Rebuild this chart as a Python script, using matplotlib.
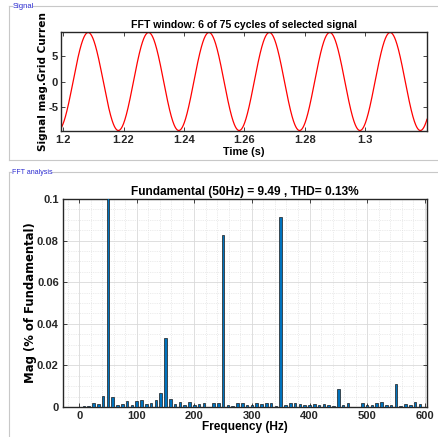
import numpy as np
import matplotlib
matplotlib.use("Agg")
import matplotlib.pyplot as plt
from matplotlib.lines import Line2D
from matplotlib.ticker import MultipleLocator

plt.rcParams['font.family'] = ['Liberation Sans', 'DejaVu Sans']

# ---- data ----
fundamental_amp = 9.49
fundamental_freq = 50.0
peak_time = 1.2083
time_window = (1.1993, 1.3205)
signal_ticks = [-5, 0, 5]
signal_ticklabels = ['-5', '0', '5']

freq_step = 50.0 / 6.0  # 6 cycles window resolution
harmonic_mag = [0.0001, 0.0006, 0.0007, 0.0017, 0.0013, 0.0055, 1.0, 0.0047, 0.0008, 0.0013,
                0.0027, 0.0012, 0.0027, 0.0032, 0.0015, 0.0017, 0.0035, 0.0065, 0.0333, 0.0038,
                0.0013, 0.0022, 0.0008, 0.0022, 0.0010, 0.0015, 0.0017, 0.0001, 0.0020, 0.0018,
                0.0827, 0.0012, 0.0006, 0.0017, 0.0020, 0.0012, 0.0008, 0.0017, 0.0015, 0.0017,
                0.0017, 0.0005, 0.0915, 0.0008, 0.0017, 0.0017, 0.0015, 0.0008, 0.0010, 0.0013,
                0.0012, 0.0013, 0.0012, 0.0003, 0.0085, 0.0012, 0.0017, 0.0002, 0.0002, 0.0017,
                0.0008, 0.0008, 0.0017, 0.0022, 0.0008, 0.0008, 0.0110, 0.0003, 0.0013, 0.0010,
                0.0022, 0.0013]
freqs = np.arange(len(harmonic_mag)) * freq_step

W, H = 438, 437
fig = plt.figure(figsize=(W / 100, H / 100), dpi=100)
fig.patch.set_facecolor('white')

def fx(x):
    return x / W

def fy(y):
    return 1 - y / H

# ---- panel frames ----
pcol = '#c8c8c8'
def hline(x0, x1, y):
    fig.add_artist(Line2D([fx(x0), fx(x1)], [fy(y), fy(y)], color=pcol, lw=0.8))
def vline(x, y0, y1):
    fig.add_artist(Line2D([fx(x), fx(x)], [fy(y0), fy(y1)], color=pcol, lw=0.8))

hline(9, 12, 6)
hline(33, 438, 6)
vline(9, 6, 160)
hline(9, 438, 160)
fig.text(fx(12.5), fy(6), 'Signal', color='#2a2ad0', fontsize=5.5, va='center', ha='left')

hline(9, 11, 172)
hline(52, 438, 172)
vline(9, 172, 437)
fig.text(fx(12), fy(172), 'FFT analysis', color='#2a2ad0', fontsize=5.0, va='center', ha='left')

axcol = '#262626'
label_family = ['DejaVu Sans']

def style(ax, ypad=3):
    for s in ax.spines.values():
        s.set_color(axcol)
        s.set_linewidth(1.0)
    ax.tick_params(direction='in', top=True, right=True, length=3, width=0.6,
                   color=axcol, labelsize=8, pad=3)
    ax.tick_params(axis='y', pad=ypad)
    for lab in ax.get_xticklabels() + ax.get_yticklabels():
        lab.set_fontweight('bold')
        lab.set_color('#262626')

# ---- top axes: signal ----
ax1 = fig.add_axes([fx(61), fy(131), (427 - 61) / W, (131 - 32) / H])
t = np.linspace(time_window[0], time_window[1], 2000)
sig = fundamental_amp * np.cos(2 * np.pi * fundamental_freq * (t - peak_time))
ax1.plot(t, sig, color='#ff0000', lw=0.9)
ax1.set_xlim(*time_window)
ax1.set_ylim(-fundamental_amp * 1.01, fundamental_amp * 1.01)
ax1.set_xticks([1.2, 1.22, 1.24, 1.26, 1.28, 1.3])
ax1.set_xticklabels(['1.2', '1.22', '1.24', '1.26', '1.28', '1.3'])
ax1.set_yticks(signal_ticks)
ax1.set_yticklabels(signal_ticklabels)
style(ax1, ypad=2)
ax1.set_title('FFT window: 6 of 75 cycles of selected signal', fontsize=7.6,
              fontweight='bold', pad=3)
ax1.set_xlabel('Time (s)', fontsize=7.8, fontweight='bold', labelpad=1)
ax1.set_ylabel('Signal mag.Grid Curren', fontsize=7.6, fontweight='bold', labelpad=0.5,
               family=label_family)

# ---- bottom axes: FFT ----
ax2 = fig.add_axes([fx(63), fy(407), (427 - 63) / W, (407 - 199) / H])
ax2.bar(freqs, harmonic_mag, width=freq_step * 0.55, color='#0072bd',
        edgecolor='#1a1a1a', linewidth=0.5, zorder=3)
ax2.set_xlim(-28, 604)
ax2.set_ylim(0, 0.1)
ax2.set_xticks([0, 100, 200, 300, 400, 500, 600])
ax2.set_yticks([0, 0.02, 0.04, 0.06, 0.08, 0.1])
ax2.set_yticklabels(['0', '0.02', '0.04', '0.06', '0.08', '0.1'])
ax2.xaxis.set_minor_locator(MultipleLocator(20))
ax2.yaxis.set_minor_locator(MultipleLocator(0.005))
ax2.grid(True, which='major', color='#d9d9d9', lw=0.6, zorder=0)
ax2.grid(True, which='minor', color='#d9d9d9', lw=0.5, ls=':', zorder=0)
ax2.tick_params(which='minor', length=0)
ax2.set_axisbelow(True)
style(ax2)
ax2.set_title('Fundamental (50Hz) = 9.49 , THD= 0.13%', fontsize=8.6,
              fontweight='bold', pad=3)
ax2.set_xlabel('Frequency (Hz)', fontsize=8.6, fontweight='bold', labelpad=0)
ax2.set_ylabel('Mag (% of Fundamental)', fontsize=8.4, fontweight='bold', labelpad=0,
               family=label_family)

fig.savefig('out.png', dpi=100, facecolor='white')
